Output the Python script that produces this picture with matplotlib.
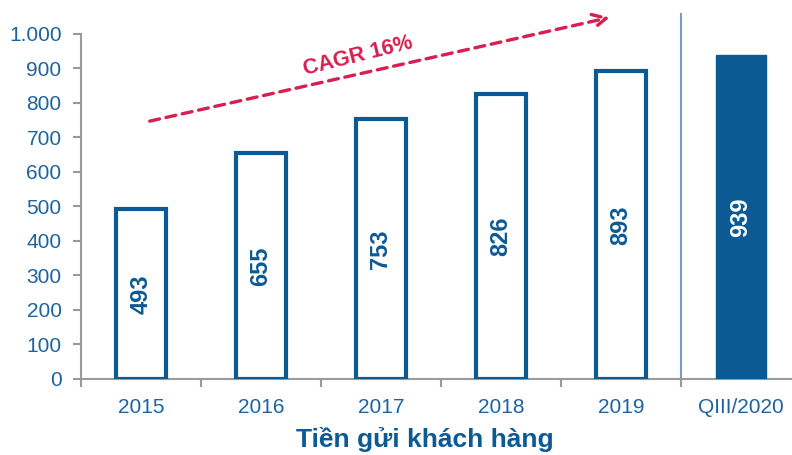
import matplotlib.pyplot as plt
import numpy as np

plt.rcParams['font.family'] = ['Liberation Sans', 'DejaVu Sans']

categories = ['2015', '2016', '2017', '2018', '2019', 'QIII/2020']
values = [493, 655, 753, 826, 893, 939]
yticks = [0, 100, 200, 300, 400, 500, 600, 700, 800, 900, 1000]
ytick_labels = ['0', '100', '200', '300', '400', '500', '600', '700', '800', '900', '1.000']

blue = '#0b5a94'
label_blue = '#1d63a0'
red = '#d81f4f'
grey = '#9a9a9a'

fig = plt.figure(figsize=(7.92, 4.55), dpi=100)
ax = fig.add_axes([81/792, 76/455, 720/792, 366/455])

x = np.arange(len(categories))
w = 0.41
# yearly bars: outline only, last one filled
ax.bar(x[:-1], values[:-1], width=w, facecolor='white', edgecolor=blue, linewidth=3, zorder=3)
ax.bar(x[-1], values[-1], width=w, facecolor=blue, edgecolor=blue, linewidth=1, zorder=3)

for i, v in enumerate(values):
    c = 'white' if i == len(values) - 1 else blue
    ax.text(x[i], v / 2, str(v), rotation=90, ha='center', va='center',
            fontsize=17, fontweight='bold', color=c, zorder=4)

ax.set_xlim(-0.5, 5.5)
ax.set_ylim(0, 1060)

ax.set_yticks(yticks)
ax.set_yticklabels(ytick_labels)
ax.set_xticks(x)
ax.set_xticklabels(categories)
ax.set_xticks(np.arange(-0.5, len(categories)), minor=True)

ax.tick_params(axis='y', colors=grey, labelcolor=label_blue, labelsize=15,
               length=6, width=1.5, pad=8)
ax.tick_params(axis='x', which='major', length=0, labelcolor=label_blue,
               labelsize=15, pad=14)
ax.tick_params(axis='x', which='minor', length=6, width=1.5, colors=grey)

for s in ['top', 'right']:
    ax.spines[s].set_visible(False)
for s in ['left', 'bottom']:
    ax.spines[s].set_color(grey)
    ax.spines[s].set_linewidth(1.5)
ax.spines['left'].set_bounds(0, 1000)

# separator between yearly data and quarter
ax.axvline(4.5, ymin=0, ymax=1, color='#7d98c2', linewidth=1.5, zorder=2)

# CAGR arrow
ax.annotate('', xy=(3.93, 1049), xytext=(0.05, 745),
            arrowprops=dict(arrowstyle='->,head_length=1.0,head_width=0.5',
                            color=red, lw=2.4, linestyle=(0, (3, 2))))
ax.text(1.81, 934, 'CAGR 16%', rotation=14, ha='center', va='center',
        fontsize=15.5, fontweight='bold', color=red)

fig.text(425/792, 1 - 440/455, 'Tiền gửi khách hàng', ha='center', va='center',
         fontsize=19, fontweight='bold', color=blue)

fig.savefig('out.png', dpi=100)
